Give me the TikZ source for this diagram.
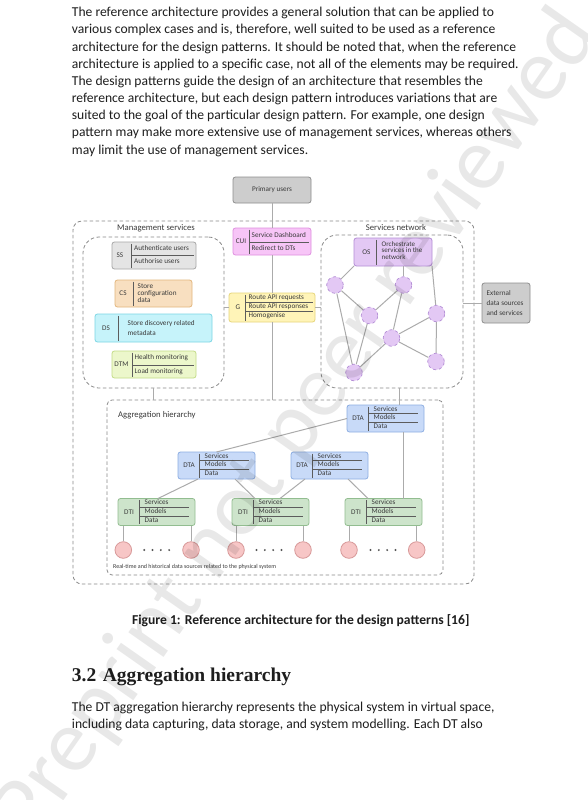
\documentclass[tikz,border=0pt]{standalone}
\usepackage{fontspec}
\setmainfont{Carlito}
\newfontfamily\headfont{Liberation Serif}

\definecolor{bodyInk}{HTML}{1E1E1E}
\definecolor{inkGray}{HTML}{3A3A3A}
\definecolor{frameGray}{HTML}{8A8A8A}
\definecolor{linkGray}{HTML}{ABABAB}
\definecolor{sepGray}{HTML}{5C5C5C}
\definecolor{dotGray}{HTML}{555555}
\definecolor{puFill}{HTML}{CDCDCD}
\definecolor{puLine}{HTML}{8E8E8E}
\definecolor{ssFill}{HTML}{E4E4E4}
\definecolor{ssLine}{HTML}{A6A6A6}
\definecolor{csFill}{HTML}{F8DFC0}
\definecolor{csLine}{HTML}{E2B67C}
\definecolor{dsFill}{HTML}{C6F3FA}
\definecolor{dsLine}{HTML}{7CD6E4}
\definecolor{dtmFill}{HTML}{ECF7CB}
\definecolor{dtmLine}{HTML}{C3DC86}
\definecolor{cuiFill}{HTML}{F7C5F7}
\definecolor{cuiLine}{HTML}{DF8FDF}
\definecolor{gFill}{HTML}{FFF4B8}
\definecolor{gLine}{HTML}{E6D57A}
\definecolor{osFill}{HTML}{E3C8F4}
\definecolor{osLine}{HTML}{B38DD5}
\definecolor{dtaFill}{HTML}{C8DAF8}
\definecolor{dtaLine}{HTML}{8DAEE2}
\definecolor{dtiFill}{HTML}{CDE4CB}
\definecolor{dtiLine}{HTML}{92BD90}
\definecolor{srcFill}{HTML}{F7C6C6}
\definecolor{srcLine}{HTML}{D89999}

\newcommand{\diagfont}{\fontsize{7.2}{7.6}\selectfont}

\tikzset{
  frame/.style={draw=frameGray, dash pattern=on 3.5pt off 2.5pt, line width=0.8pt,
    inner sep=0pt, outer sep=0pt, anchor=north west},
  unit/.style={rounded corners=2.5pt, line width=0.8pt, inner sep=0pt, outer sep=0pt,
    anchor=north west, font=\diagfont, text=inkGray},
  dtaBox/.style={fill=dtaFill, draw=dtaLine},
  dtiBox/.style={fill=dtiFill, draw=dtiLine},
  tag/.style={inner sep=0pt, font=\diagfont, text=inkGray},
  row/.style={anchor=west, inner sep=0pt, font=\diagfont, text=inkGray,
    text height=5pt, text depth=1.5pt},
  blk/.style={anchor=west, align=left, inner sep=0pt, text=inkGray,
    font=\fontsize{7.2}{7}\selectfont},
  sep/.style={draw=sepGray, line width=0.6pt},
  link/.style={draw=linkGray, line width=1pt},
  peer/.style={circle, dashed, draw=osLine, fill=osFill, line width=0.7pt,
    minimum size=16.6pt, inner sep=0pt},
  src/.style={circle, draw=srcLine, fill=srcFill, line width=0.8pt,
    minimum size=16.6pt, inner sep=0pt},
  area/.style={inner sep=0pt, font=\fontsize{8.7}{9}\selectfont, text=inkGray},
  body/.style={anchor=base west, inner sep=0pt, font=\fontsize{13.6}{17}\selectfont,
    text=bodyInk},
}

\begin{document}
\begin{tikzpicture}[x=1pt,y=-1pt]
\fill[white] (0,0) rectangle (588,800);
\useasboundingbox (0,0) rectangle (588,800);

% text above the figure
\foreach \txtline [count=\i] in {
  {The reference architecture provides a general solution that can be applied to},
  {various complex cases and is, therefore, well suited to be used as a reference},
  {architecture for the design patterns. It should be noted that, when the reference},
  {architecture is applied to a specific case, not all of the elements may be required.},
  {The design patterns guide the design of an architecture that resembles the},
  {reference architecture, but each design pattern introduces variations that are},
  {suited to the goal of the particular design pattern. For example, one design},
  {pattern may make more extensive use of management services, whereas others},
  {may limit the use of management services.}}
  \node[body] (par\i) at (71.7,{16.8+17.17*(\i-1)}) {\txtline};

% dashed areas
\node[frame, rounded corners=9pt, minimum width=401, minimum height=363] (outer) at (73,221) {};
\node[frame, rounded corners=16pt, minimum width=141, minimum height=151] (mgmt) at (83,237) {};
\node[frame, rounded corners=16pt, minimum width=142, minimum height=153] (net) at (321,235) {};
\node[frame, rounded corners=5pt, minimum width=336, minimum height=175] (agg) at (107,400) {};
\node[area] (mgmtLabel) at (156,228) {Management services};
\node[area] (netLabel) at (396,228) {Services network};
\node[area, anchor=west] (aggLabel) at (118,415) {Aggregation hierarchy};

% users and front
\node[unit, fill=puFill, draw=puLine, minimum width=78, minimum height=26] (pu) at (233,177) {Primary users};

\node[unit, fill=cuiFill, draw=cuiLine, minimum width=78, minimum height=27] (cui) at (233,228) {};
\node[tag] at (241,241.5) {CUI};
\draw[sep] (249.3,229.5) -- (249.3,253.5);
\node[row] at (251.5,235.5) {Service Dashboard};
\draw[sep] (249.3,242) -- (309,242);
\node[row] at (251.5,249) {Redirect to DTs};

\node[unit, fill=gFill, draw=gLine, minimum width=86, minimum height=29] (g) at (229,293) {};
\node[tag] at (238,307.5) {G};
\draw[sep] (245.7,294.5) -- (245.7,320.5);
\node[row] at (248.5,298) {Route API requests};
\draw[sep] (245.7,302.5) -- (313,302.5);
\node[row] at (248.5,307) {Route API responses};
\draw[sep] (245.7,311.5) -- (313,311.5);
\node[row] at (248.5,316) {Homogenise};

% management services
\node[unit, fill=ssFill, draw=ssLine, minimum width=84, minimum height=27] (ss) at (112,242) {};
\node[tag] at (120,255.5) {SS};
\draw[sep] (131,243.5) -- (131,267.5);
\node[row] at (134,249) {Authenticate users};
\draw[sep] (131,255.5) -- (194,255.5);
\node[row] at (134,261.5) {Authorise users};

\node[unit, fill=csFill, draw=csLine, minimum width=77, minimum height=27] (cs) at (115,280) {};
\node[tag] at (123,293.5) {CS};
\draw[sep] (133,281.5) -- (133,305.5);
\node[blk] at (137.5,293.5) {Store\\configuration\\data};

\node[unit, fill=dsFill, draw=dsLine, minimum width=117, minimum height=28] (ds) at (95,314) {};
\node[tag] at (106,328) {DS};
\draw[sep] (118.5,315.5) -- (118.5,340.5);
\node[blk, font=\fontsize{7.2}{9.5}\selectfont] at (127.5,328) {Store discovery related\\metadata};

\node[unit, fill=dtmFill, draw=dtmLine, minimum width=84, minimum height=27] (dtm) at (112,351) {};
\node[tag] at (121.5,364.5) {DTM};
\draw[sep] (132,352.5) -- (132,376.5);
\node[row] at (134.5,358) {Health monitoring};
\draw[sep] (132,364.8) -- (194,364.8);
\node[row] at (134.5,371.5) {Load monitoring};

% services network
\node[unit, fill=osFill, draw=osLine, minimum width=78, minimum height=28] (os) at (354,238) {};
\node[tag] at (366.5,252) {OS};
\draw[sep] (376,239.5) -- (376,264.5);
\node[blk, font=\fontsize{7}{6.8}\selectfont] at (381.5,250.5) {Orchestrate\\services in the\\network};

\foreach \nm/\x/\y in {n1/335/285, n2/403.5/285, n3/369.5/315.5, n4/436.5/313.5,
  n5/391.5/338, n6/436/361.5, n7/354/372.5}
  \node[peer] (\nm) at (\x,\y) {};

\node[unit, fill=puFill, draw=puLine, minimum width=48, minimum height=40] (ext) at (482,283) {};
\node[blk, font=\fontsize{7.2}{10}\selectfont] at (486.5,303.3) {External\\data sources\\and services};

% aggregation hierarchy
\foreach \nm/\tg/\x/\y/\st in {dtaTop/DTA/347/405/dtaBox, dtaLeft/DTA/178/452/dtaBox,
  dtaMid/DTA/291/452/dtaBox, dti1/DTI/118/498.5/dtiBox, dti2/DTI/232/498.5/dtiBox,
  dti3/DTI/345/498.5/dtiBox}{
  \node[unit, \st, minimum width=77, minimum height=27] (\nm) at (\x,\y) {};
  \node[tag] at (\x+11,\y+13.5) {\tg};
  \draw[sep] (\x+21.7,\y+1.5) -- (\x+21.7,\y+25.5);
  \node[row] at (\x+26.5,\y+4.3) {Services};
  \draw[sep] (\x+21.7,\y+8.4) -- (\x+71,\y+8.4);
  \node[row] at (\x+26.5,\y+12.9) {Models};
  \draw[sep] (\x+21.7,\y+17.5) -- (\x+71,\y+17.5);
  \node[row] at (\x+26.5,\y+21.9) {Data};
}

\foreach \i/\x/\b in {1/123.3/dti1, 2/191/dti1, 3/236/dti2, 4/303/dti2, 5/349/dti3, 6/416.7/dti3}{
  \node[src] (src\i) at (\x,550) {};
  \draw[link] (src\i) -- (src\i |- \b.south);
}
\foreach \cx in {156.7,269,383}
  \foreach \k in {-1.5,-0.5,0.5,1.5}
    \fill[dotGray] (\cx+\k*8.3,550) circle (1.1);
\node[inner sep=0pt, anchor=west, text=inkGray, font=\fontsize{6}{6}\selectfont] (srcLabel) at (113,567)
  {Real-time and historical data sources related to the physical system};

% connectors
\draw[link] (pu) -- (cui);
\draw[link] (cui) -- (g);
\draw[link] (g) -- (g |- agg.north);
\draw[link] (mgmt) -- (mgmt |- agg.north);
\draw[link] (g) -- (g -| mgmt.east);
\draw[link] (g) -- (g -| net.west);
\draw[link] (ext) -- (ext -| net.east);
\coordinate (netDrop) at (dtaTop.45);
\draw[link] (netDrop) -- (netDrop |- net.south);
\draw[link] (os.south west) -- (n1);
\draw[link] (n2 |- os.south) -- (n2);
\draw[link] (os.south east) -- (n4);
\foreach \a/\b in {n1/n3, n1/n7, n2/n3, n2/n5, n3/n7, n5/n4, n5/n6, n4/n6, n5/n7}
  \draw[link] (\a) -- (\b);
\draw[link] (dtaTop.west) -- (dtaLeft.north);
\draw[link] ([xshift=20pt]dtaLeft.south west) -- ([xshift=40pt]dti1.north west);
\draw[link] ([xshift=57pt]dtaLeft.south west) -- ([xshift=23pt]dti2.north west);
\draw[link] ([xshift=14pt]dtaMid.south west) -- ([xshift=48pt]dti2.north west);
\draw[link] ([xshift=57pt]dtaMid.south west) -- ([xshift=23pt]dti3.north west);
\coordinate (dtiUp) at ([xshift=58pt]dti3.north west);
\draw[link] (dtiUp) -- (dtiUp |- dtaTop.south);

% caption and next section
\node[anchor=base, inner sep=0pt, text=bodyInk, font=\bfseries\fontsize{13.6}{17}\selectfont] (caption)
  at (300.8,624.5) {Figure 1: Reference architecture for the design patterns [16]};
\node[anchor=base west, inner sep=0pt, text=bodyInk, font=\headfont\bfseries\fontsize{19.5}{22}\selectfont] (secHead)
  at (71.7,681.5) {3.2\hspace{6.5pt}Aggregation hierarchy};
\node[body] (next1) at (71.7,711.8) {The DT aggregation hierarchy represents the physical system in virtual space,};
\node[body] (next2) at (71.7,728.5) {including data capturing, data storage, and system modelling. Each DT also};

% watermark
\node[rotate=55, anchor=base, inner sep=0pt, text=black, text opacity=0.09,
  font=\fontsize{90}{90}\selectfont] (stamp) at (317,439) {Preprint not peer reviewed};
\end{tikzpicture}
\end{document}
